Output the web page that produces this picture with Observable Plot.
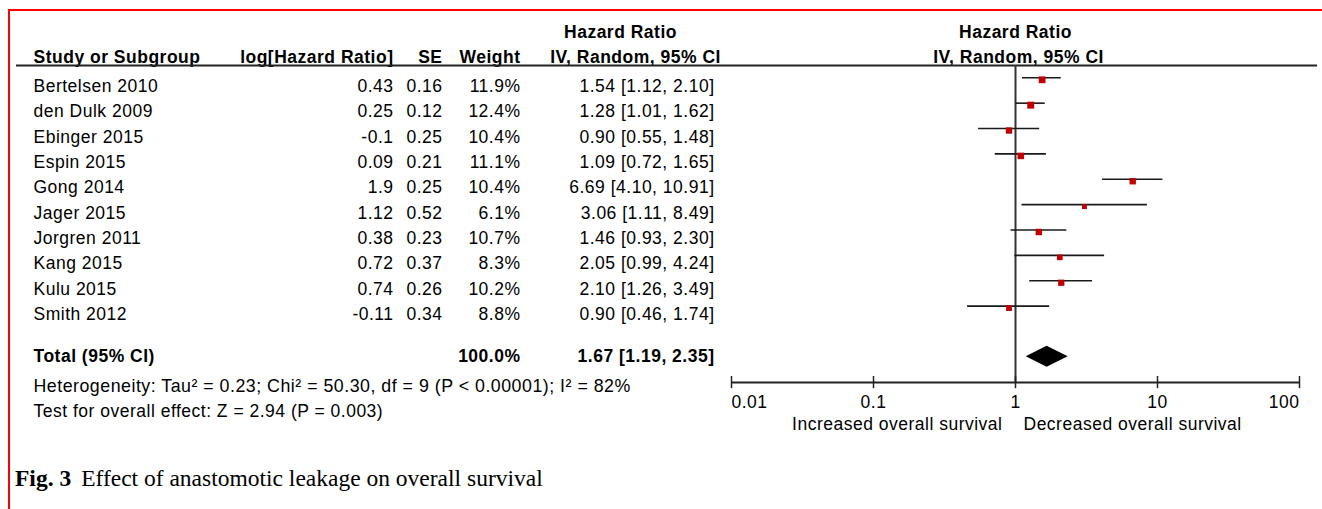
<!DOCTYPE html>
<html><head><meta charset="utf-8">
<script src="https://cdn.jsdelivr.net/npm/d3@7"></script>
<script src="https://cdn.jsdelivr.net/npm/@observablehq/plot@0.6"></script>
<style>
html,body{margin:0;padding:0;background:#fff;}
#wrap{position:relative;width:1322px;height:509px;overflow:hidden;background:#fff;}
#chart{position:absolute;left:0;top:0;}
#frame{position:absolute;left:8px;top:9px;width:1330px;height:520px;border-top:2px solid #ff0000;border-left:2px solid #ff0000;pointer-events:none;}
#caption{position:absolute;left:15px;top:466px;font-family:"Liberation Serif","Times New Roman",serif;font-size:23.5px;line-height:24px;color:#000;white-space:nowrap;}
#caption b{margin-right:10px;}
</style></head><body>
<div id="wrap"><div id="chart"></div><div id="caption"></div><div id="frame"></div></div>
<script>
// ---- data ----
const studies = ["Bertelsen 2010","den Dulk 2009","Ebinger 2015","Espin 2015","Gong 2014","Jager 2015","Jorgren 2011","Kang 2015","Kulu 2015","Smith 2012"];
const logHazardRatio = [0.43,0.25,-0.1,0.09,1.9,1.12,0.38,0.72,0.74,-0.11];
const standardError = [0.16,0.12,0.25,0.21,0.25,0.52,0.23,0.37,0.26,0.34];
const weightPct = [11.9,12.4,10.4,11.1,10.4,6.1,10.7,8.3,10.2,8.8];
const hazardRatio = [1.54,1.28,0.90,1.09,6.69,3.06,1.46,2.05,2.10,0.90];
const ciLower = [1.12,1.01,0.55,0.72,4.10,1.11,0.93,0.99,1.26,0.46];
const ciUpper = [2.10,1.62,1.48,1.65,10.91,8.49,2.30,4.24,3.49,1.74];
const totalLabel = ["Total (95% CI)"];
const totalWeight = [100.0];
const totalHR = [1.67];
const totalLower = [1.19];
const totalUpper = [2.35];
const heterogeneityText = ["Heterogeneity: Tau\u00B2 = 0.23; Chi\u00B2 = 50.30, df = 9 (P < 0.00001); I\u00B2 = 82%"];
const overallEffectText = ["Test for overall effect: Z = 2.94 (P = 0.003)"];
const tableHeaders = ["Study or Subgroup","log[Hazard Ratio]","SE","Weight"];
const effectHeaders = ["Hazard Ratio","IV, Random, 95% CI"];
const axisTicks = [0.01,0.1,1,10,100];
const favourLabels = ["Increased overall survival","Decreased overall survival"];
const captionLabel = "Fig. 3";
const captionText = "Effect of anastomotic leakage on overall survival";

// ---- derived table ----
const fmt2 = v => v.toFixed(2);
const rows = studies.map((name,i)=>({
  i, name,
  logHR: String(logHazardRatio[i]),
  se: fmt2(standardError[i]),
  wLabel: weightPct[i].toFixed(1)+"%",
  weight: weightPct[i],
  hr: hazardRatio[i], lo: ciLower[i], hi: ciUpper[i],
  ci: `${fmt2(hazardRatio[i])} [${fmt2(ciLower[i])}, ${fmt2(ciUpper[i])}]`
}));
const totalCI = `${fmt2(totalHR[0])} [${fmt2(totalLower[0])}, ${fmt2(totalUpper[0])}]`;

// ---- layout (row units on the y scale; pixel offsets for columns) ----
const L = {hdr1:-2.12, hdr2:-1.13, hdrLine:-0.82, total:10.66, axis:11.68, het:11.83, test:12.82};
const col = {name:17, logHR:377, se:426, weight:504, ci:698, hrHead:604, ivHead:619};
const diamondHalf = 0.414;
const diamond = [
  {x: totalLower[0], y1: L.total, y2: L.total},
  {x: totalHR[0], y1: L.total - diamondHalf, y2: L.total + diamondHalf},
  {x: totalUpper[0], y1: L.total, y2: L.total}
];

const left = (data, o) => Plot.text(data, {frameAnchor:"left", ...o});
const one = v => [v];

const chart = Plot.plot({
  width: 1322, height: 455,
  marginLeft: 16, marginRight: 5, marginTop: 0, marginBottom: 73,
  x: {type:"log", domain:[axisTicks[0], axisTicks[axisTicks.length-1]], range:[731,1299]},
  y: {domain:[0,9], range:[85.8,314.1], axis:null},
  r: {type:"sqrt", domain:[0,12.4], range:[0,3.9]},
  style: {fontFamily:"'Liberation Sans', Arial, sans-serif", fontSize:"17.5px", letterSpacing:"0.5px", background:"transparent", color:"#000"},
  marks: [
    // headers
    left(one(tableHeaders[0]), {y: one(L.hdr2), text: d=>d, dx: col.name, textAnchor:"start", fontWeight:"bold"}),
    left(one(tableHeaders[1]), {y: one(L.hdr2), text: d=>d, dx: col.logHR, textAnchor:"end", fontWeight:"bold"}),
    left(one(tableHeaders[2]), {y: one(L.hdr2), text: d=>d, dx: col.se, textAnchor:"end", fontWeight:"bold"}),
    left(one(tableHeaders[3]), {y: one(L.hdr2), text: d=>d, dx: col.weight, textAnchor:"end", fontWeight:"bold"}),
    left(one(effectHeaders[0]), {y: one(L.hdr1), text: d=>d, dx: col.hrHead, textAnchor:"middle", fontWeight:"bold"}),
    left(one(effectHeaders[1]), {y: one(L.hdr2), text: d=>d, dx: col.ivHead, textAnchor:"middle", fontWeight:"bold"}),
    Plot.text(one(effectHeaders[0]), {x: one(1), y: one(L.hdr1), text: d=>d, fontWeight:"bold"}),
    Plot.text(one(effectHeaders[1]), {x: one(1), y: one(L.hdr2), text: d=>d, dx: 3, fontWeight:"bold"}),
    Plot.ruleY(one(L.hdrLine), {stroke:"#222", strokeWidth:2}),
    // study rows
    left(rows, {y:"i", text:"name", dx: col.name, textAnchor:"start"}),
    left(rows, {y:"i", text:"logHR", dx: col.logHR, textAnchor:"end"}),
    left(rows, {y:"i", text:"se", dx: col.se, textAnchor:"end"}),
    left(rows, {y:"i", text:"wLabel", dx: col.weight, textAnchor:"end"}),
    left(rows, {y:"i", text:"ci", dx: col.ci, textAnchor:"end"}),
    // total row
    left(totalLabel, {y: one(L.total), text: d=>d, dx: col.name, textAnchor:"start", fontWeight:"bold"}),
    left(totalWeight, {y: one(L.total), text: d=>d.toFixed(1)+"%", dx: col.weight, textAnchor:"end", fontWeight:"bold"}),
    left(one(totalCI), {y: one(L.total), text: d=>d, dx: col.ci, textAnchor:"end", fontWeight:"bold"}),
    left(heterogeneityText, {y: one(L.het), text: d=>d, dx: col.name, textAnchor:"start", fontSize: 17.8}),
    left(overallEffectText, {y: one(L.test), text: d=>d, dx: col.name, textAnchor:"start"}),
    // forest
    Plot.ruleX(one(1), {y1: L.hdrLine, y2: L.axis, stroke:"#333", strokeWidth:2}),
    Plot.ruleY(rows, {y:"i", x1:"lo", x2:"hi", dy:-8.5, stroke:"#1a1a1a", strokeWidth:1.6}),
    Plot.dot(rows, {x:"hr", y:"i", r:"weight", symbol:"square", fill:"#c00000", stroke:"none", dy:-6.5}),
    Plot.areaY(diamond, {x:"x", y1:"y1", y2:"y2", fill:"#000"}),
    // axis
    Plot.ruleY(one(L.axis), {x1: axisTicks[0], x2: axisTicks[axisTicks.length-1], stroke:"#222", strokeWidth:2}),
    Plot.ruleX(axisTicks, {y1: L.axis - 0.24, y2: L.axis + 0.24, stroke:"#222", strokeWidth:1.5}),
    Plot.axisX({ticks: axisTicks.slice(1,-1), tickSize:0, tickPadding:13, tickFormat: d=>String(d), label:null}),
    Plot.axisX({ticks: axisTicks.slice(0,1), tickSize:0, tickPadding:13, tickFormat: d=>String(d), label:null, textAnchor:"start"}),
    Plot.axisX({ticks: axisTicks.slice(-1), tickSize:0, tickPadding:13, tickFormat: d=>String(d), label:null, textAnchor:"end"}),
    Plot.text(one(favourLabels[0]), {x: one(1), y: one(L.axis), text: d=>d, dy: 42, dx: -13, textAnchor:"end"}),
    Plot.text(one(favourLabels[1]), {x: one(1), y: one(L.axis), text: d=>d, dy: 42, dx: 8, textAnchor:"start"})
  ]
});
document.getElementById("chart").appendChild(chart);

const cap = document.getElementById("caption");
const b = document.createElement("b"); b.textContent = captionLabel; cap.appendChild(b);
cap.appendChild(document.createTextNode(captionText));
</script></body></html>
